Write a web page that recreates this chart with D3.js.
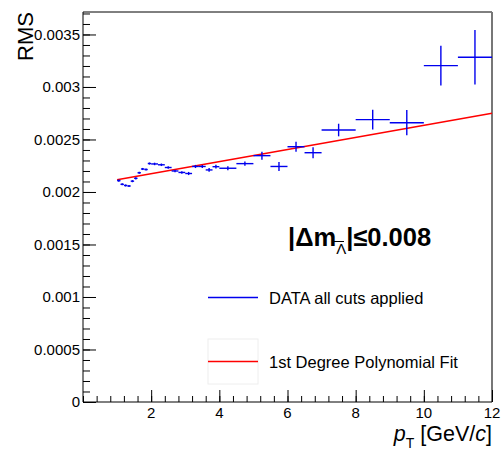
<!DOCTYPE html>
<html>
<head>
<meta charset="utf-8">
<script src="https://cdn.jsdelivr.net/npm/d3@7"></script>
<style>
body { margin: 0; background: #fff; }
svg { font-family: "Liberation Sans", Arial, sans-serif; }
</style>
</head>
<body>
<div id="container"></div>
<script>
/* Data */
var pt     = [1.05, 1.15, 1.25, 1.35, 1.45, 1.55, 1.65, 1.75, 1.85, 1.95,
              2.1, 2.3, 2.5, 2.7, 2.9, 3.1, 3.3, 3.5, 3.7, 3.9,
              4.25, 4.75, 5.25, 5.75, 6.25, 6.75, 7.5, 8.5, 9.5, 10.5, 11.5];
var ptErr  = [0.05, 0.05, 0.05, 0.05, 0.05, 0.05, 0.05, 0.05, 0.05, 0.05,
              0.1, 0.1, 0.1, 0.1, 0.1, 0.1, 0.1, 0.1, 0.1, 0.1,
              0.25, 0.25, 0.25, 0.25, 0.25, 0.25, 0.5, 0.5, 0.5, 0.5, 0.5];
var rms    = [0.002108, 0.002073, 0.002062, 0.002057, 0.002103, 0.00213, 0.002183, 0.002219, 0.002214, 0.002271,
              0.002267, 0.002259, 0.002233, 0.0022, 0.002186, 0.002176, 0.002243, 0.002243, 0.00221, 0.002241,
              0.002226, 0.00227, 0.002346, 0.002243, 0.002431, 0.002374, 0.00259, 0.002689, 0.00266, 0.003203, 0.003283];
var rmsErr = [0.00001, 0.00001, 0.00001, 0.00001, 0.00001, 0.00001, 0.00001, 0.00001, 0.00001, 0.00001,
              0.000012, 0.000012, 0.000012, 0.000012, 0.000012, 0.000015, 0.000015, 0.000015, 0.000018, 0.000018,
              0.00002, 0.00002, 0.000038, 0.000043, 0.000048, 0.000052, 0.00006, 0.000095, 0.00012, 0.00019, 0.00026];

/* 1st degree fit: endpoints */
var fitX = [1.0, 12.0];
var fitY = [0.002117, 0.00275];

var xTicks = [2, 4, 6, 8, 10, 12];
var yTicks = [0, 0.0005, 0.001, 0.0015, 0.002, 0.0025, 0.003, 0.0035];
var yTickLabels = ["0", "0.0005", "0.001", "0.0015", "0.002", "0.0025", "0.003", "0.0035"];

var legendLabels = ["DATA all cuts applied", "1st Degree Polynomial Fit"];

var w = 503, h = 450;
var margin = {left: 83, right: 11, top: 12, bottom: 48};
var plotW = w - margin.left - margin.right,
	plotH = h - margin.top - margin.bottom;

var svg = d3.select('#container').append('svg')
	.attr('width', w)
	.attr('height', h);

var xScale = d3.scaleLinear().domain([0, 12]).range([margin.left, margin.left + plotW]),
	yScale = d3.scaleLinear().domain([0, 0.003714]).range([margin.top + plotH, margin.top]);

/* Frame */
svg.append('line')
	.attr('x1', xScale(0)).attr('x2', xScale(12))
	.attr('y1', margin.top).attr('y2', margin.top)
	.attr('stroke', '#000').attr('stroke-width', 1);
svg.append('line')
	.attr('x1', xScale(12)).attr('x2', xScale(12))
	.attr('y1', margin.top).attr('y2', yScale(0))
	.attr('stroke', '#777').attr('stroke-width', 2);

/* X axis: ticks point inwards */
var xAxis = d3.axisTop(xScale)
	.tickValues(d3.range(0, 12.01, 0.4))
	.tickSize(6)
	.tickFormat('');
svg.append('g')
	.attr('transform', 'translate(0,' + yScale(0) + ')')
	.call(xAxis)
	.call(g => g.select('.domain').remove())
	.selectAll('line').attr('stroke', '#000');
svg.append('g')
	.attr('transform', 'translate(0,' + yScale(0) + ')')
	.call(d3.axisTop(xScale).tickValues(xTicks).tickSize(12).tickFormat(''))
	.call(g => g.select('.domain').remove())
	.selectAll('line').attr('stroke', '#000');
svg.append('line')
	.attr('x1', xScale(0)).attr('x2', xScale(12))
	.attr('y1', yScale(0)).attr('y2', yScale(0))
	.attr('stroke', '#000');
svg.append('g').selectAll('text')
	.data(xTicks)
	.enter().append('text')
	.attr('x', d => xScale(d))
	.attr('y', yScale(0) + 15.5)
	.attr('text-anchor', 'middle')
	.attr('font-size', 15)
	.text(d => d);

/* Y axis */
svg.append('g')
	.attr('transform', 'translate(' + xScale(0) + ',0)')
	.call(d3.axisRight(yScale).tickValues(d3.range(0, 0.00371, 0.0001)).tickSize(7).tickFormat(''))
	.call(g => g.select('.domain').remove())
	.selectAll('line').attr('stroke', '#000');
svg.append('g')
	.attr('transform', 'translate(' + xScale(0) + ',0)')
	.call(d3.axisRight(yScale).tickValues(yTicks).tickSize(13).tickFormat(''))
	.call(g => g.select('.domain').remove())
	.selectAll('line').attr('stroke', '#000');
svg.append('line')
	.attr('x1', xScale(0)).attr('x2', xScale(0))
	.attr('y1', margin.top).attr('y2', yScale(0))
	.attr('stroke', '#000');
svg.append('g').selectAll('text')
	.data(yTicks)
	.enter().append('text')
	.attr('x', xScale(0) - 3)
	.attr('y', d => yScale(d))
	.attr('dy', '0.36em')
	.attr('text-anchor', 'end')
	.attr('font-size', 15)
	.text((d, i) => yTickLabels[i]);

/* Axis titles */
svg.append('text')
	.attr('transform', 'translate(33,' + margin.top + ') rotate(-90)')
	.attr('text-anchor', 'end')
	.attr('font-size', 22)
	.text('RMS');

var xt = svg.append('text')
	.attr('x', xScale(12))
	.attr('y', 440.5)
	.attr('text-anchor', 'end')
	.attr('font-size', 21.5);
xt.append('tspan').attr('font-style', 'italic').text('p');
xt.append('tspan').attr('font-size', 14).attr('dy', 7).text('T');
xt.append('tspan').attr('dy', -7).text(' [GeV/');
xt.append('tspan').attr('font-style', 'italic').text('c');
xt.append('tspan').text(']');

/* Fit line */
svg.append('line')
	.attr('x1', xScale(fitX[0])).attr('y1', yScale(fitY[0]))
	.attr('x2', xScale(fitX[1])).attr('y2', yScale(fitY[1]))
	.attr('stroke', '#ff0000').attr('stroke-width', 1.5);

/* Data points with error bars */
var pts = svg.append('g').attr('class', 'nodes')
	.selectAll('g')
	.data(pt)
	.enter().append('g');
pts.append('line')
	.attr('x1', (d, i) => xScale(d - ptErr[i]))
	.attr('x2', (d, i) => xScale(d + ptErr[i]))
	.attr('y1', (d, i) => yScale(rms[i]))
	.attr('y2', (d, i) => yScale(rms[i]))
	.attr('stroke', '#0000ee').attr('stroke-width', 1.4);
pts.append('line')
	.attr('x1', d => xScale(d))
	.attr('x2', d => xScale(d))
	.attr('y1', (d, i) => yScale(rms[i] - rmsErr[i]))
	.attr('y2', (d, i) => yScale(rms[i] + rmsErr[i]))
	.attr('stroke', '#0000ee').attr('stroke-width', 1.4);

/* Annotation */
var ann = svg.append('text')
	.attr('x', 288)
	.attr('y', 246)
	.attr('font-size', 25.5)
	.attr('font-weight', 'bold');
ann.append('tspan').text('|\u0394m');
ann.append('tspan').attr('font-size', 15).attr('font-weight', 'normal').attr('dy', 8).text('\u039B');
ann.append('tspan').attr('dy', -8).text('|\u22640.008');
svg.append('line')
	.attr('x1', 334).attr('x2', 344)
	.attr('y1', 241.5).attr('y2', 241.5)
	.attr('stroke', '#000').attr('stroke-width', 1);

/* Legend */
var legColors = ['#0000ee', '#ff0000'];
var legY = [297.5, 361.5];
svg.append('rect')
	.attr('x', 208).attr('y', 339).attr('width', 50).attr('height', 45)
	.attr('fill', 'none').attr('stroke', '#eee');
var leg = svg.append('g').selectAll('g')
	.data(legendLabels)
	.enter().append('g');
leg.append('line')
	.attr('x1', 208).attr('x2', 258)
	.attr('y1', (d, i) => legY[i]).attr('y2', (d, i) => legY[i])
	.attr('stroke', (d, i) => legColors[i]).attr('stroke-width', 1.5);
leg.append('text')
	.attr('x', 269)
	.attr('y', (d, i) => legY[i] + 6)
	.attr('font-size', 16.5)
	.text(d => d);
</script>
</body>
</html>
